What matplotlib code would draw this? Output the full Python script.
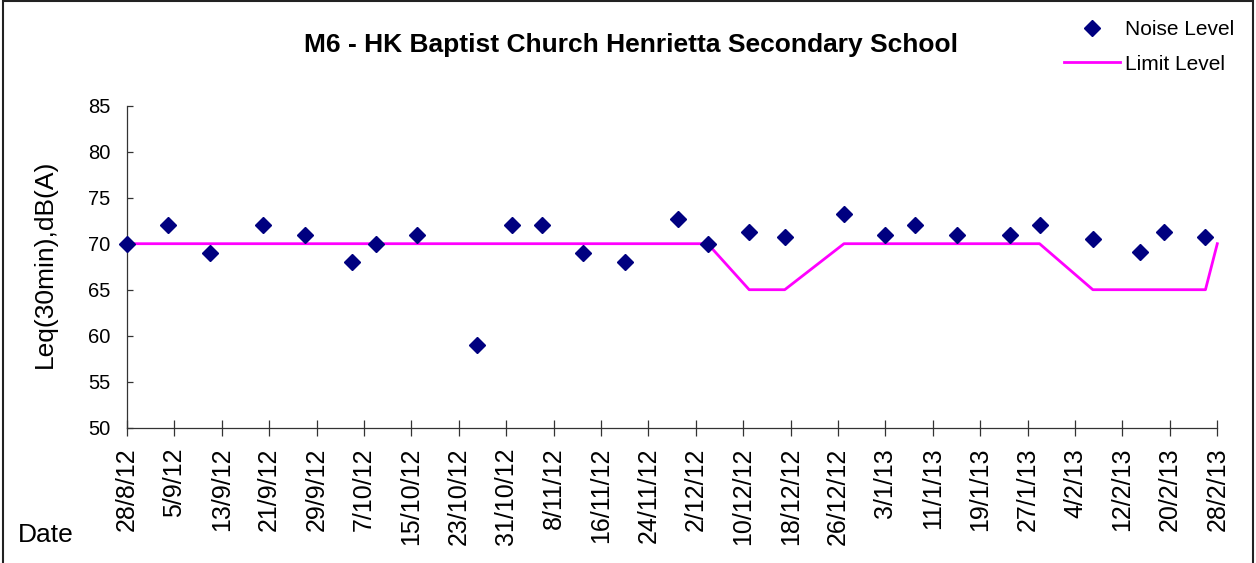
import numpy as np
import pandas as pd
import matplotlib
matplotlib.use("Agg")
import matplotlib.pyplot as plt
from matplotlib.patches import Rectangle

plt.rcParams['font.family'] = ['Liberation Sans', 'DejaVu Sans']

# measured noise levels
noise_dates = ["2012-08-28", "2012-09-04", "2012-09-11", "2012-09-20", "2012-09-27",
               "2012-10-05", "2012-10-09", "2012-10-16", "2012-10-26", "2012-11-01",
               "2012-11-06", "2012-11-13", "2012-11-20", "2012-11-29", "2012-12-04",
               "2012-12-11", "2012-12-17", "2012-12-27", "2013-01-03", "2013-01-08",
               "2013-01-15", "2013-01-24", "2013-01-29", "2013-02-07", "2013-02-15",
               "2013-02-19", "2013-02-26"]
noise_level = [70, 72, 69, 72, 71, 68, 70, 71, 59, 72, 72, 69, 68, 72.7, 70,
               71.3, 70.7, 73.2, 71, 72, 71, 71, 72, 70.5, 69.1, 71.3, 70.7]

# limit level (same dates plus end of period)
limit_dates = noise_dates + ["2013-02-28"]
limit_level = [70, 70, 70, 70, 70, 70, 70, 70, 70, 70, 70, 70, 70, 70, 70,
               65, 65, 70, 70, 70, 70, 70, 70, 65, 65, 65, 65, 70]

tick_dates = ["2012-08-28", "2012-09-05", "2012-09-13", "2012-09-21", "2012-09-29",
              "2012-10-07", "2012-10-15", "2012-10-23", "2012-10-31", "2012-11-08",
              "2012-11-16", "2012-11-24", "2012-12-02", "2012-12-10", "2012-12-18",
              "2012-12-26", "2013-01-03", "2013-01-11", "2013-01-19", "2013-01-27",
              "2013-02-04", "2013-02-12", "2013-02-20", "2013-02-28"]
tick_labels = ["28/8/12", "5/9/12", "13/9/12", "21/9/12", "29/9/12", "7/10/12",
               "15/10/12", "23/10/12", "31/10/12", "8/11/12", "16/11/12", "24/11/12",
               "2/12/12", "10/12/12", "18/12/12", "26/12/12", "3/1/13", "11/1/13",
               "19/1/13", "27/1/13", "4/2/13", "12/2/13", "20/2/13", "28/2/13"]
y_ticks = [50, 55, 60, 65, 70, 75, 80, 85]

nd = pd.to_datetime(noise_dates)
ld = pd.to_datetime(limit_dates)
td = pd.to_datetime(tick_dates)

fig = plt.figure(figsize=(12.56, 5.63), dpi=100)
ax = fig.add_axes([127 / 1256, 1 - 427.7 / 563, 1090.3 / 1256, 322 / 563])

limit_line, = ax.plot(ld, limit_level, color='#FF00FF', lw=2.0, zorder=2, clip_on=False)
noise_pts, = ax.plot(nd, noise_level, ls='none', marker='D', ms=8, color='#000080',
                     zorder=3, clip_on=False)

ax.set_xlim(td[0], td[-1])
ax.set_ylim(50, 85)
ax.set_xticks(td)
ax.set_xticklabels(tick_labels, rotation=90, fontsize=18)
ax.set_yticks(y_ticks)
ax.set_yticklabels([str(v) for v in y_ticks], fontsize=14.5)
ax.tick_params(axis='x', direction='inout', length=11, width=0.9, pad=9, color='#333333')
ax.tick_params(axis='y', direction='in', length=4.5, width=0.9, pad=12, color='#333333')

for s in ['top', 'right']:
    ax.spines[s].set_visible(False)
for s in ['left', 'bottom']:
    ax.spines[s].set_linewidth(0.9)
    ax.spines[s].set_color('#333333')

fig.text(631 / 1256, 1 - 45 / 563, "M6 - HK Baptist Church Henrietta Secondary School",
         ha='center', va='center', fontsize=19, fontweight='bold')
fig.text(45 / 1256, 1 - 264 / 563, "Leq(30min),dB(A)", rotation=90,
         ha='center', va='center', fontsize=19)
fig.text(18 / 1256, 1 - 535 / 563, "Date", ha='left', va='center', fontsize=19)

fig.legend([noise_pts, limit_line], ["Noise Level", "Limit Level"],
           loc='upper left', bbox_to_anchor=(1064 / 1256, 1 - 20 / 563),
           frameon=False, fontsize=15, handlelength=2.7, handletextpad=0.25,
           labelspacing=0.75, borderpad=0, borderaxespad=0)

fig.patches.append(Rectangle((0.002, -0.01), 0.996, 1.008, transform=fig.transFigure,
                             fill=False, ec='#222222', lw=1.5))

fig.savefig("out.png", dpi=100)
